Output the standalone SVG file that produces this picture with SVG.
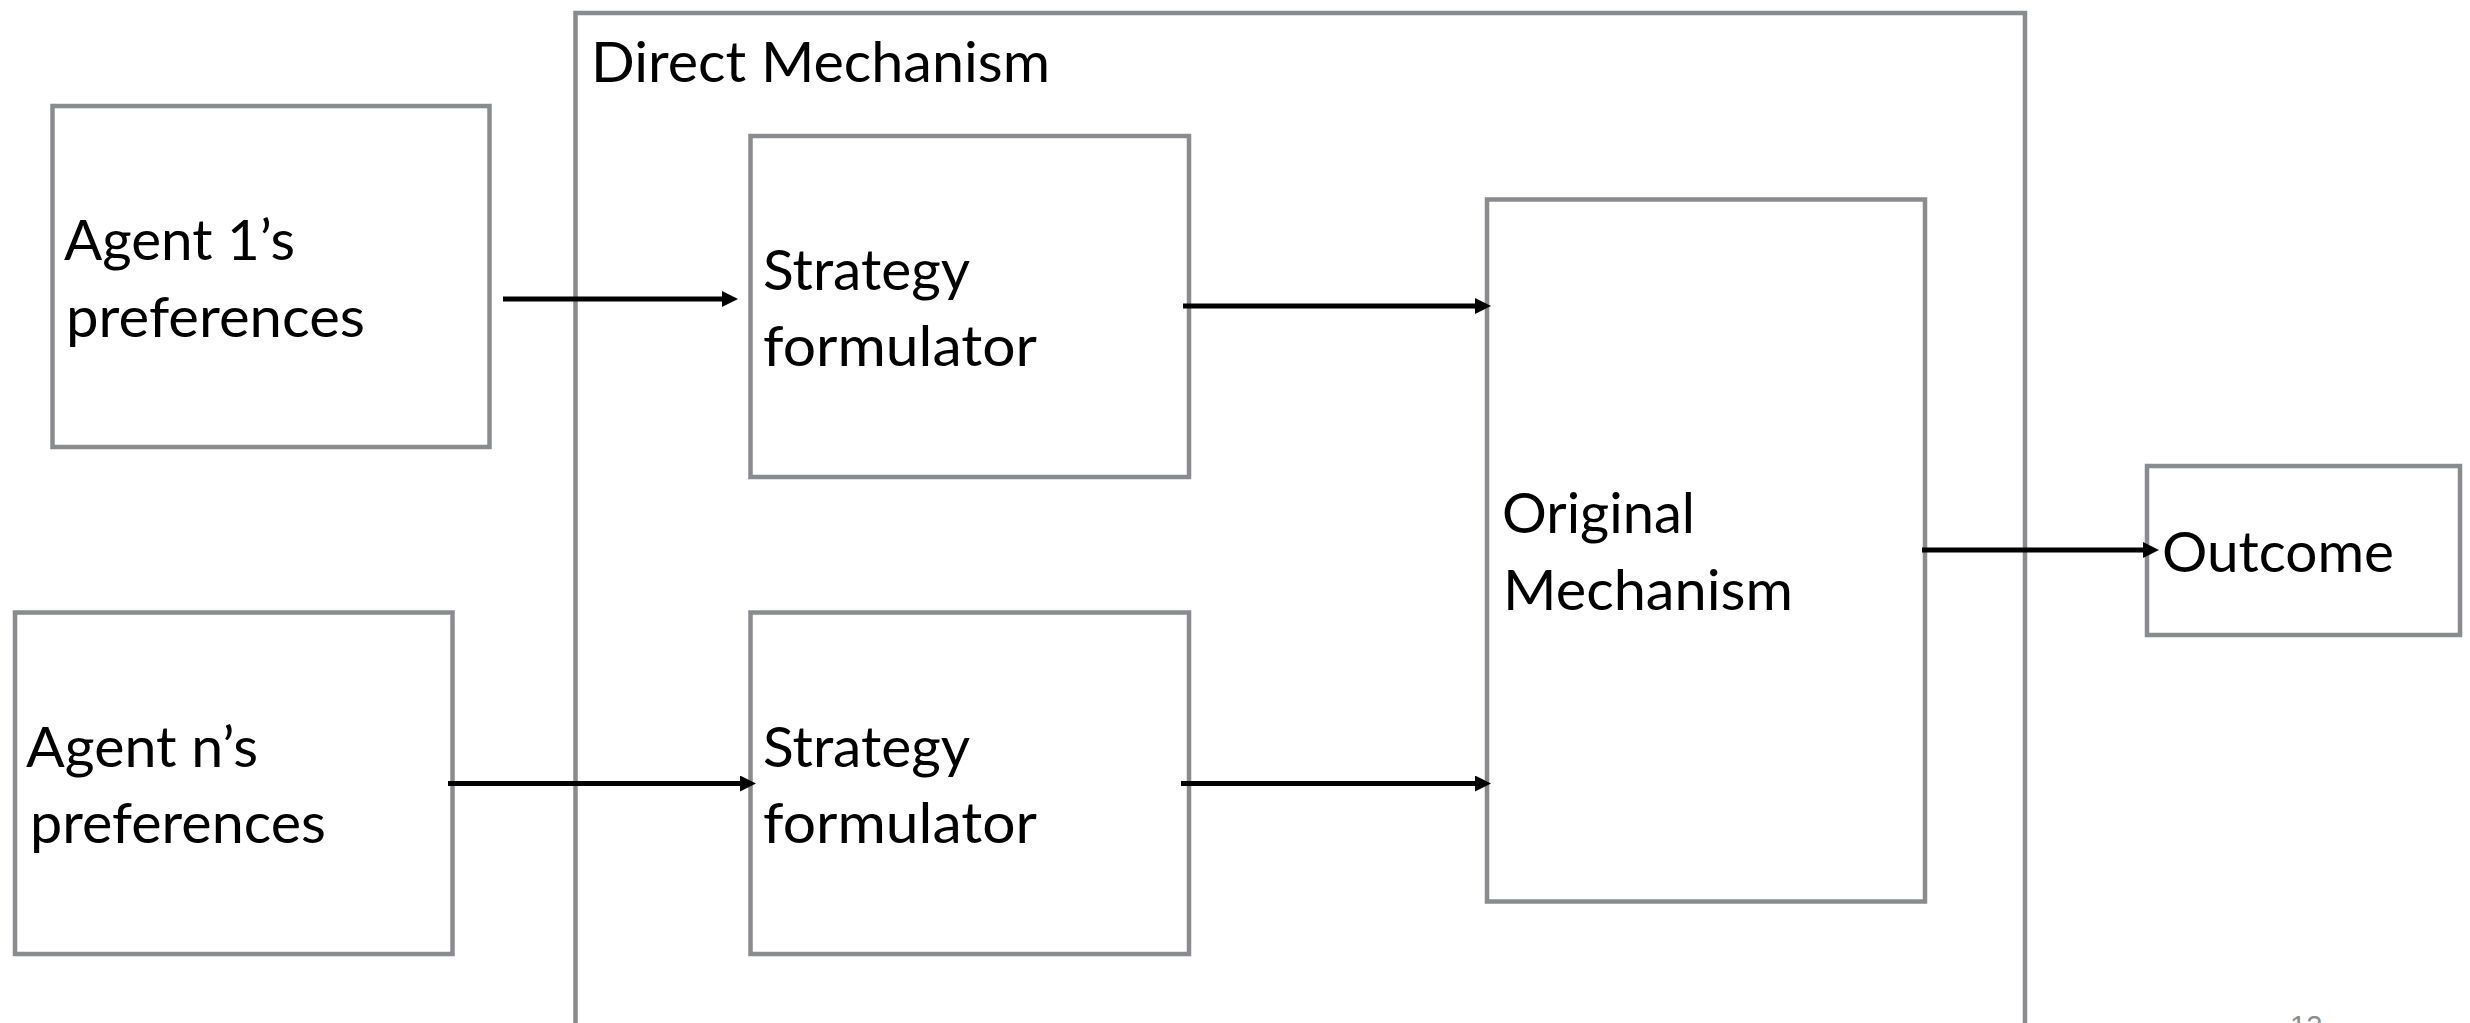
<svg xmlns="http://www.w3.org/2000/svg" width="2470" height="1023" viewBox="0 0 2470 1023">
  <defs>
    <style>
      .box { fill: #ffffff; stroke: #898b8e; stroke-width: 4.5; }
      .lbl { font-family: Lato, "Liberation Sans", sans-serif; font-weight: 400; font-size: 56px; fill: #000000; }
      .conn { stroke: #000000; stroke-width: 5; fill: none; }
      .pg { font-family: "Liberation Sans", Arial, sans-serif; font-size: 29px; fill: #8c8c8c; }
    </style>
    <marker id="ah" markerUnits="userSpaceOnUse" markerWidth="16" markerHeight="16" refX="4" refY="8" orient="auto">
      <path d="M0,0 L16,8 L0,16 z" fill="#000000"/>
    </marker>
  </defs>
  <rect x="0" y="0" width="2470" height="1023" fill="#ffffff"/>

  <g id="direct-mechanism">
    <rect class="box" x="575.5" y="13" width="1449.5" height="1040"/>
    <text class="lbl" x="591" y="82" textLength="459" lengthAdjust="spacingAndGlyphs">Direct Mechanism</text>
  </g>

  <g id="agent1">
    <rect class="box" x="52.5" y="106" width="437" height="341"/>
    <text class="lbl" x="64" y="260" textLength="231" lengthAdjust="spacingAndGlyphs">Agent 1’s</text>
    <text class="lbl" x="66" y="337" textLength="299" lengthAdjust="spacingAndGlyphs">preferences</text>
  </g>

  <g id="agentn">
    <rect class="box" x="15" y="612.5" width="437.5" height="341.5"/>
    <text class="lbl" x="26" y="767" textLength="232" lengthAdjust="spacingAndGlyphs">Agent n’s</text>
    <text class="lbl" x="30" y="843" textLength="296" lengthAdjust="spacingAndGlyphs">preferences</text>
  </g>

  <g id="strategy1">
    <rect class="box" x="750.5" y="136" width="438.5" height="341"/>
    <text class="lbl" x="763" y="290" textLength="207" lengthAdjust="spacingAndGlyphs">Strategy</text>
    <text class="lbl" x="763" y="366" textLength="274" lengthAdjust="spacingAndGlyphs">formulator</text>
  </g>

  <g id="strategy2">
    <rect class="box" x="750.5" y="612.5" width="438.5" height="341.5"/>
    <text class="lbl" x="763" y="767" textLength="207" lengthAdjust="spacingAndGlyphs">Strategy</text>
    <text class="lbl" x="763" y="843" textLength="274" lengthAdjust="spacingAndGlyphs">formulator</text>
  </g>

  <g id="original-mechanism">
    <rect class="box" x="1487" y="199.5" width="438" height="702"/>
    <text class="lbl" x="1502" y="533" textLength="193" lengthAdjust="spacingAndGlyphs">Original</text>
    <text class="lbl" x="1503" y="610" textLength="290" lengthAdjust="spacingAndGlyphs">Mechanism</text>
  </g>

  <g id="outcome">
    <rect class="box" x="2147" y="466" width="313" height="169"/>
    <text class="lbl" x="2162" y="572" textLength="232" lengthAdjust="spacingAndGlyphs">Outcome</text>
  </g>

  <g id="connectors">
    <line class="conn" x1="503" y1="299" x2="726" y2="299" marker-end="url(#ah)"/>
    <line class="conn" x1="1183" y1="306" x2="1479" y2="306" marker-end="url(#ah)"/>
    <line class="conn" x1="448" y1="783.5" x2="744" y2="783.5" marker-end="url(#ah)"/>
    <line class="conn" x1="1181" y1="783.5" x2="1479" y2="783.5" marker-end="url(#ah)"/>
    <line class="conn" x1="1922" y1="550" x2="2147" y2="550" marker-end="url(#ah)"/>
  </g>

  <text class="pg" x="2290" y="1036">12</text>
</svg>
